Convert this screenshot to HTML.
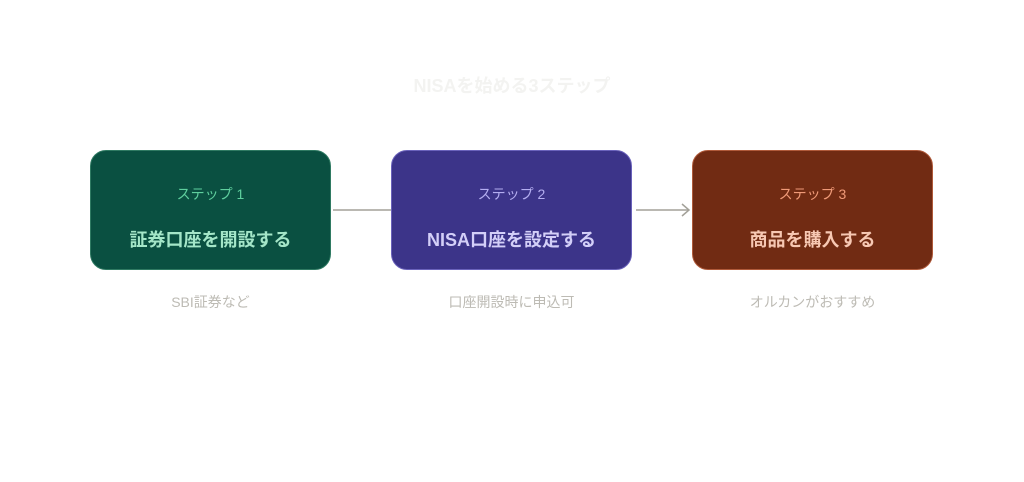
<!DOCTYPE html>
<html><head><meta charset="utf-8"><style>
body{margin:0;width:1024px;height:482px;background:#fff;position:relative;font-family:"Liberation Sans","Noto Sans CJK JP",sans-serif;overflow:hidden}
.t{position:absolute;left:0;width:1024px;text-align:center;top:72px;font-size:18px;font-weight:bold;color:#f3f3f1}
.b{position:absolute;top:150px;width:239px;height:118px;border-radius:16px;border:1px solid}
.s{position:absolute;top:33px;width:100%;text-align:center;font-size:14px}
.m{position:absolute;top:75px;width:100%;text-align:center;font-size:18px;font-weight:bold}
.n{position:absolute;top:292px;width:241px;text-align:center;font-size:14px;color:#bdbbb4}
</style></head><body>
<div class="t">NISAを始める3ステップ</div>
<svg style="position:absolute;left:0;top:0" width="1024" height="482">
<line x1="333" y1="210" x2="391" y2="210" stroke="#a3a199" stroke-width="1.5"/>
<line x1="636" y1="210" x2="689" y2="210" stroke="#a3a199" stroke-width="1.5"/>
<polyline points="682,204 689,210 682,216" fill="none" stroke="#a3a199" stroke-width="1.5"/>
</svg>
<div class="b" style="left:90px;background:#0a5041;border-color:#2f7a62"><div class="s" style="color:#5fcf9e">ステップ 1</div><div class="m" style="color:#a4e6c8">証券口座を開設する</div></div>
<div class="b" style="left:391px;background:#3c3489;border-color:#6a62bb"><div class="s" style="color:#b4aef0">ステップ 2</div><div class="m" style="color:#d3cff8">NISA口座を設定する</div></div>
<div class="b" style="left:692px;background:#712b13;border-color:#b05a3a"><div class="s" style="color:#f09a78">ステップ 3</div><div class="m" style="color:#f7c8b3">商品を購入する</div></div>
<div class="n" style="left:90px">SBI証券など</div>
<div class="n" style="left:391px">口座開設時に申込可</div>
<div class="n" style="left:692px">オルカンがおすすめ</div>
</body></html>
